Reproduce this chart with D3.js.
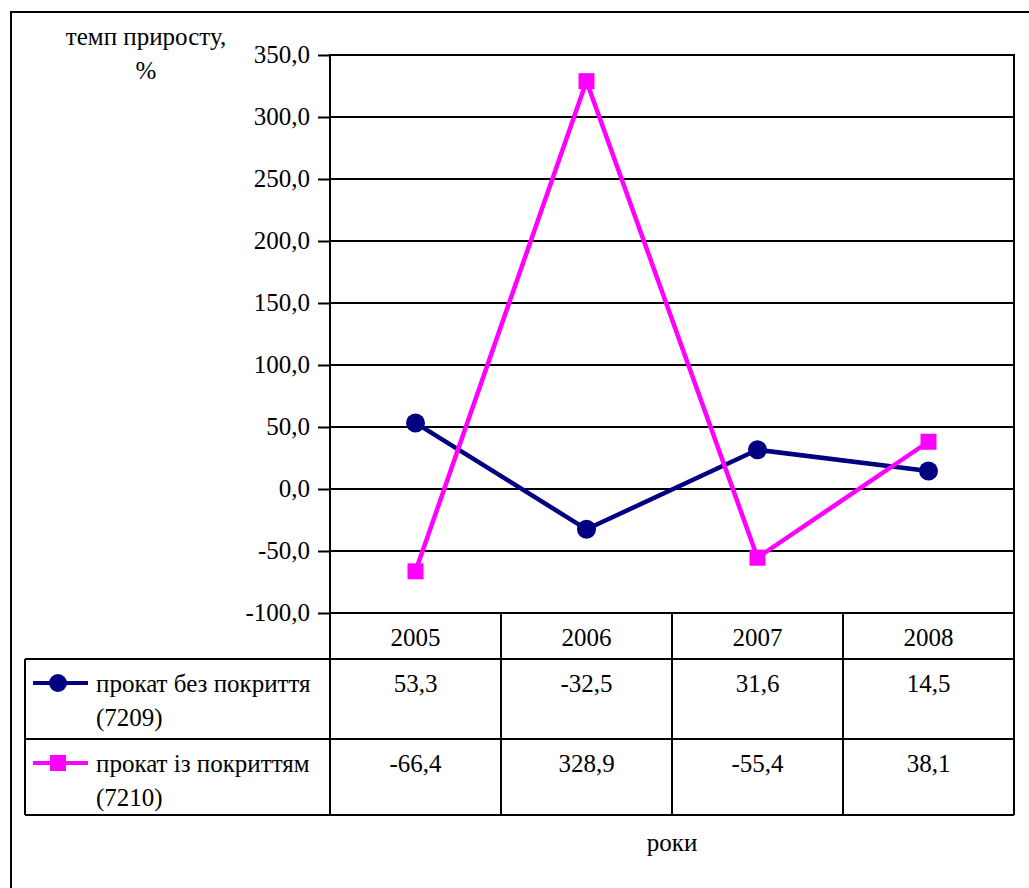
<!DOCTYPE html>
<html>
<head>
<meta charset="utf-8">
<script src="https://cdn.jsdelivr.net/npm/d3@7"></script>
<style>
  body { margin: 0; background: #fff; }
  #chart svg text {
    font-family: 'Liberation Serif', 'Times New Roman', Times, 'DejaVu Serif', serif !important;
  }
</style>
</head>
<body>
<div id="chart"></div>
<script>
// chart data
const years = ['2005', '2006', '2007', '2008'];
const uncoated = [53.3, -32.5, 31.6, 14.5];
const coated = [-66.4, 328.9, -55.4, 38.1];
const seriesNames = [
  ['прокат без покриття', '(7209)'],
  ['прокат із покриттям', '(7210)'],
];
const yTicks = [-100, -50, 0, 50, 100, 150, 200, 250, 300, 350];

const width = 1029;
const height = 888;
const plot = { left: 330, right: 1014, top: 55, bottom: 613 };
const table = { left: 25, header: 659, row1: 739, bottom: 815 };
const fontSize = 25;
const navy = '#000080';
const magenta = '#ff00ff';

const fmt = v => v.toFixed(1).replace('.', ',');

const svg = d3.select('#chart')
  .append('svg')
  .attr('width', width)
  .attr('height', height);

// outer frame (runs off the page on the right and bottom)
svg.append('rect')
  .attr('x', 11).attr('y', 12)
  .attr('width', width + 20).attr('height', height + 20)
  .attr('fill', 'none').attr('stroke', '#000').attr('stroke-width', 2);

const x = d3.scaleBand().domain(years).range([plot.left, plot.right]);
const y = d3.scaleLinear().domain([-100, 350]).range([plot.bottom, plot.top]);
const cx = d => x(d) + x.bandwidth() / 2;

// gridlines
svg.append('g')
  .selectAll('line')
  .data(yTicks)
  .join('line')
  .attr('x1', plot.left).attr('x2', plot.right)
  .attr('y1', d => y(d)).attr('y2', d => y(d))
  .attr('stroke', '#000').attr('stroke-width', 2);

// plot border
svg.append('rect')
  .attr('x', plot.left).attr('y', plot.top)
  .attr('width', plot.right - plot.left).attr('height', plot.bottom - plot.top)
  .attr('fill', 'none').attr('stroke', '#000').attr('stroke-width', 2);

// y axis
const yAxis = svg.append('g')
  .attr('transform', `translate(${plot.left},0)`)
  .call(d3.axisLeft(y).tickValues(yTicks).tickFormat(fmt).tickSize(12).tickPadding(8))
  .attr('font-size', fontSize);
yAxis.select('.domain').remove();
yAxis.selectAll('line').attr('stroke', '#000').attr('stroke-width', 2);
yAxis.selectAll('text').attr('fill', '#000').attr('dy', '0.3em');

// y axis title
svg.append('text')
  .attr('x', 146).attr('y', 45)
  .attr('text-anchor', 'middle')
  .attr('font-size', fontSize)
  .text('темп приросту,');
svg.append('text')
  .attr('x', 146).attr('y', 79)
  .attr('text-anchor', 'middle')
  .attr('font-size', fontSize)
  .text('%');

// data table lines
const grid = svg.append('g').attr('stroke', '#000').attr('stroke-width', 2);
const colEdges = years.map(d => x(d)).concat([plot.right]);
grid.selectAll('.col')
  .data(colEdges)
  .join('line')
  .attr('x1', d => d).attr('x2', d => d)
  .attr('y1', plot.bottom).attr('y2', table.bottom);
grid.selectAll('.row')
  .data([table.header, table.row1, table.bottom])
  .join('line')
  .attr('x1', table.left).attr('x2', plot.right)
  .attr('y1', d => d).attr('y2', d => d);
grid.append('line')
  .attr('x1', table.left).attr('x2', table.left)
  .attr('y1', table.header).attr('y2', table.bottom);

// header years
svg.append('g')
  .selectAll('text')
  .data(years)
  .join('text')
  .attr('x', cx)
  .attr('y', 646)
  .attr('text-anchor', 'middle')
  .attr('font-size', fontSize)
  .text(d => d);

// values in table
const rows = [
  { values: uncoated, base: 692 },
  { values: coated, base: 772 },
];
rows.forEach(r => {
  svg.append('g')
    .selectAll('text')
    .data(r.values)
    .join('text')
    .attr('x', (d, i) => cx(years[i]))
    .attr('y', r.base)
    .attr('text-anchor', 'middle')
    .attr('font-size', fontSize)
    .text(fmt);
});

// legend keys in table
const drawCircle = (g, px, py, color) => g.append('circle')
  .attr('cx', px).attr('cy', py).attr('r', 9).attr('fill', color);
const drawSquare = (g, px, py, color) => g.append('rect')
  .attr('x', px - 8).attr('y', py - 8).attr('width', 16).attr('height', 16).attr('fill', color);

const legend = [
  { color: navy, marker: drawCircle, cy: 683, base: 692 },
  { color: magenta, marker: drawSquare, cy: 763, base: 772 },
];
legend.forEach((l, i) => {
  const g = svg.append('g');
  g.append('line')
    .attr('x1', 33).attr('x2', 88)
    .attr('y1', l.cy).attr('y2', l.cy)
    .attr('stroke', l.color).attr('stroke-width', 4);
  l.marker(g, 58, l.cy, l.color);
  g.append('text')
    .attr('x', 96).attr('y', l.base)
    .attr('font-size', fontSize)
    .text(seriesNames[i][0]);
  g.append('text')
    .attr('x', 96).attr('y', l.base + 34)
    .attr('font-size', fontSize)
    .text(seriesNames[i][1]);
});

// x axis title
svg.append('text')
  .attr('x', 672).attr('y', 851)
  .attr('text-anchor', 'middle')
  .attr('font-size', fontSize)
  .text('роки');

// series lines
const line = d3.line()
  .x((d, i) => cx(years[i]))
  .y(d => y(d));

svg.append('path')
  .datum(uncoated)
  .attr('d', line)
  .attr('fill', 'none').attr('stroke', navy).attr('stroke-width', 4.5);
svg.append('g')
  .selectAll('circle')
  .data(uncoated)
  .join('circle')
  .attr('cx', (d, i) => cx(years[i]))
  .attr('cy', d => y(d))
  .attr('r', 9.5)
  .attr('fill', navy);

svg.append('path')
  .datum(coated)
  .attr('d', line)
  .attr('fill', 'none').attr('stroke', magenta).attr('stroke-width', 4.5);
svg.append('g')
  .selectAll('rect')
  .data(coated)
  .join('rect')
  .attr('x', (d, i) => cx(years[i]) - 8)
  .attr('y', d => y(d) - 8)
  .attr('width', 16).attr('height', 16)
  .attr('fill', magenta);
</script>
</body>
</html>
